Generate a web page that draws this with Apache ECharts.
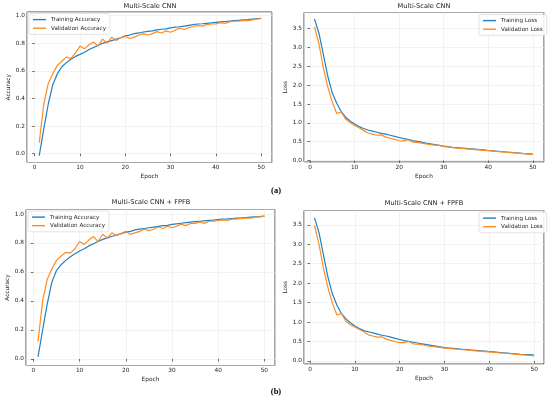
<!DOCTYPE html>
<html>
<head>
<meta charset="utf-8">
<script src="https://cdn.jsdelivr.net/npm/echarts@6/dist/echarts.min.js"></script>
<style>
  html, body { margin: 0; padding: 0; background: #fff; }
  #main { width: 550px; height: 403px; }
</style>
</head>
<body>
<div id="main"></div>
<script>
// epochs 1..50
var epochs = [1,2,3,4,5,6,7,8,9,10,11,12,13,14,15,16,17,18,19,20,
  21,22,23,24,25,26,27,28,29,30,31,32,33,34,35,36,37,38,39,40,
  41,42,43,44,45,46,47,48,49,50];

// (a) Multi-Scale CNN
var accTrainA = [-0.015,0.18,0.36,0.50,0.58,0.63,0.66,0.685,0.705,0.72,
  0.735,0.755,0.77,0.785,0.80,0.81,0.82,0.83,0.84,0.855,
  0.86,0.87,0.875,0.882,0.887,0.89,0.897,0.902,0.905,0.912,
  0.917,0.92,0.925,0.93,0.935,0.94,0.942,0.945,0.948,0.952,
  0.955,0.958,0.961,0.964,0.967,0.97,0.972,0.975,0.978,0.981];
var accValA = [0.08,0.36,0.51,0.58,0.64,0.67,0.70,0.69,0.73,0.78,
  0.76,0.79,0.81,0.78,0.83,0.80,0.845,0.82,0.84,0.85,
  0.835,0.845,0.86,0.87,0.86,0.87,0.885,0.875,0.89,0.88,
  0.895,0.91,0.90,0.915,0.92,0.93,0.925,0.935,0.94,0.94,
  0.95,0.945,0.955,0.96,0.96,0.965,0.965,0.97,0.975,0.98];
var lossTrainA = [3.76,3.38,2.81,2.23,1.79,1.52,1.30,1.15,1.05,0.97,
  0.90,0.85,0.81,0.78,0.75,0.72,0.70,0.67,0.64,0.61,
  0.58,0.56,0.53,0.51,0.49,0.46,0.44,0.42,0.40,0.38,
  0.37,0.35,0.34,0.33,0.32,0.31,0.30,0.29,0.28,0.265,
  0.255,0.245,0.235,0.225,0.215,0.205,0.195,0.185,0.178,0.17];
var lossValA = [3.55,3.10,2.45,1.95,1.55,1.25,1.28,1.10,1.00,0.93,
  0.87,0.80,0.73,0.70,0.67,0.68,0.62,0.59,0.56,0.53,
  0.52,0.55,0.49,0.48,0.46,0.44,0.42,0.41,0.40,0.37,
  0.36,0.34,0.33,0.32,0.31,0.30,0.29,0.28,0.27,0.26,
  0.25,0.24,0.23,0.22,0.21,0.20,0.19,0.18,0.17,0.16];

// (b) Multi-Scale CNN + FPFB
var accTrainB = [0.015,0.20,0.38,0.53,0.61,0.65,0.68,0.705,0.725,0.745,
  0.76,0.78,0.795,0.81,0.825,0.835,0.845,0.855,0.865,0.875,
  0.88,0.89,0.895,0.90,0.905,0.91,0.915,0.92,0.922,0.928,
  0.932,0.936,0.94,0.944,0.947,0.95,0.953,0.956,0.958,0.961,
  0.964,0.966,0.969,0.971,0.973,0.976,0.978,0.98,0.982,0.985];
var accValB = [0.12,0.40,0.55,0.62,0.68,0.71,0.735,0.73,0.76,0.81,
  0.79,0.82,0.845,0.81,0.86,0.835,0.87,0.85,0.865,0.88,
  0.86,0.87,0.88,0.895,0.885,0.895,0.91,0.90,0.915,0.905,
  0.915,0.93,0.92,0.935,0.935,0.945,0.935,0.95,0.95,0.955,
  0.96,0.955,0.965,0.965,0.97,0.972,0.972,0.978,0.98,0.985];
var lossTrainB = [3.68,3.30,2.72,2.15,1.72,1.43,1.22,1.08,0.98,0.90,
  0.83,0.78,0.75,0.72,0.69,0.66,0.64,0.61,0.58,0.55,
  0.52,0.50,0.48,0.46,0.44,0.42,0.40,0.38,0.36,0.34,
  0.33,0.32,0.31,0.30,0.29,0.28,0.27,0.26,0.25,0.24,
  0.23,0.22,0.21,0.20,0.19,0.18,0.17,0.165,0.16,0.15];
var lossValB = [3.48,3.00,2.38,1.88,1.48,1.18,1.22,1.02,0.93,0.87,
  0.81,0.75,0.67,0.64,0.61,0.62,0.56,0.53,0.50,0.47,
  0.47,0.50,0.44,0.43,0.42,0.39,0.37,0.36,0.35,0.33,
  0.32,0.31,0.30,0.29,0.28,0.27,0.26,0.25,0.24,0.23,
  0.22,0.21,0.20,0.19,0.18,0.17,0.16,0.15,0.14,0.13];

var panelTitles = ['Multi-Scale CNN', 'Multi-Scale CNN', 'Multi-Scale CNN + FPFB', 'Multi-Scale CNN + FPFB'];
var blue = '#1f80c4';
var orange = '#ff8c1f';
var font = 'DejaVu Sans';
var ink = '#262626';

function pairs(ys) {
    return epochs.map(function (e, i) { return [e, ys[i]]; });
}

// grid boxes, in pixels
var grids = [
    {left: 27, top: 12, width: 245, height: 150.5},
    {left: 304, top: 12.5, width: 240, height: 149.5},
    {left: 26, top: 209.5, width: 249, height: 156},
    {left: 304, top: 210.5, width: 240, height: 153.5}
];
var xRange = [[-1.7, 52.4], [-1.35, 52.5], [-1.6, 52.3], [-1.35, 52.2]];
var yRange = [[-0.064, 1.027], [-0.04, 3.93], [-0.045, 1.031], [-0.08, 3.87]];
var yStep = [0.2, 0.5, 0.2, 0.5];
var yName = ['Accuracy', 'Loss', 'Accuracy', 'Loss'];

var myChart = echarts.init(document.getElementById('main'), null, {renderer: 'canvas'});

var xAxes = [], yAxes = [], gridOpts = [];
for (var i = 0; i < 4; i++) {
    gridOpts.push({
        left: grids[i].left, top: grids[i].top, width: grids[i].width, height: grids[i].height,
        show: true, borderColor: '#4a4a4a', borderWidth: 1, backgroundColor: '#fff'
    });
    xAxes.push({
        type: 'value', gridIndex: i,
        min: xRange[i][0], max: xRange[i][1],
        splitNumber: 5, minInterval: 10, maxInterval: 10,
        name: 'Epoch', nameLocation: 'middle', nameGap: 11,
        nameTextStyle: {fontSize: 5.8, color: ink, fontFamily: font},
        axisLine: {show: false},
        axisTick: {show: true, length: 2.5, lineStyle: {color: '#333', width: 0.7}},
        axisLabel: {fontSize: 5.8, color: ink, fontFamily: font, margin: 2,
            showMinLabel: false, showMaxLabel: false,
            formatter: function (v) { return Math.round(v) === v ? String(v) : ''; }},
        splitLine: {show: true, lineStyle: {color: '#e9e9e9', width: 0.6}}
    });
    yAxes.push({
        type: 'value', gridIndex: i,
        min: yRange[i][0], max: yRange[i][1],
        splitNumber: 6, minInterval: yStep[i], maxInterval: yStep[i],
        name: yName[i], nameLocation: 'middle', nameGap: 15, nameRotate: 90,
        nameTextStyle: {fontSize: 5.8, color: ink, fontFamily: font},
        axisLine: {show: false},
        axisTick: {show: true, length: 2.5, lineStyle: {color: '#333', width: 0.7}},
        axisLabel: {fontSize: 5.8, color: ink, fontFamily: font, margin: 2,
            showMinLabel: false, showMaxLabel: false,
            formatter: function (v) { return v.toFixed(1); }},
        splitLine: {show: true, lineStyle: {color: '#e9e9e9', width: 0.6}}
    });
}

function line(name, ys, idx, color) {
    return {
        name: name, type: 'line', xAxisIndex: idx, yAxisIndex: idx,
        data: pairs(ys), symbol: 'none', smooth: false,
        lineStyle: {color: color, width: 1.2}, itemStyle: {color: color},
        z: color === blue ? 3 : 4
    };
}

var legendBase = {
    orient: 'vertical', icon: 'rect', itemWidth: 13, itemHeight: 1.4, itemGap: 2.4,
    padding: [3, 4, 3, 4], backgroundColor: 'rgba(255,255,255,0.85)',
    borderColor: '#d0d0d0', borderWidth: 0.6, borderRadius: 2,
    textStyle: {fontSize: 5.6, color: ink, fontFamily: font, lineHeight: 6.2, padding: [0, 0, 0, 0]},
    selectedMode: false
};
var legends = [
    Object.assign({}, legendBase, {left: 29, top: 13.5, data: ['Training Accuracy', 'Validation Accuracy']}),
    Object.assign({}, legendBase, {left: 479, top: 14.5, data: ['Training Loss', 'Validation Loss']}),
    Object.assign({}, legendBase, {left: 28, top: 211, data: ['Training Accuracy', 'Validation Accuracy']}),
    Object.assign({}, legendBase, {left: 479, top: 212, data: ['Training Loss', 'Validation Loss']})
];

var titleXY = [[150, 6], [424, 6], [151, 202.5], [424, 203.5]];
var texts = [];
for (var k = 0; k < 4; k++) {
    texts.push({
        type: 'text', x: titleXY[k][0], y: titleXY[k][1],
        style: {text: panelTitles[k], fontSize: 6.6, fontFamily: font, fill: '#1a1a1a',
            textAlign: 'center', textVerticalAlign: 'middle'}
    });
}
texts.push({type: 'text', x: 276, y: 191,
    style: {text: '(a)', fontSize: 8.5, fontWeight: 'bold', fontFamily: 'Liberation Serif', fill: '#000',
        textAlign: 'center', textVerticalAlign: 'middle'}});
texts.push({type: 'text', x: 276, y: 391.5,
    style: {text: '(b)', fontSize: 8.5, fontWeight: 'bold', fontFamily: 'Liberation Serif', fill: '#000',
        textAlign: 'center', textVerticalAlign: 'middle'}});

option = {
    animation: false,
    backgroundColor: '#fff',
    grid: gridOpts,
    xAxis: xAxes,
    yAxis: yAxes,
    legend: legends,
    graphic: texts,
    series: [
        line('Training Accuracy', accTrainA, 0, blue),
        line('Validation Accuracy', accValA, 0, orange),
        line('Training Loss', lossTrainA, 1, blue),
        line('Validation Loss', lossValA, 1, orange),
        line('Training Accuracy', accTrainB, 2, blue),
        line('Validation Accuracy', accValB, 2, orange),
        line('Training Loss', lossTrainB, 3, blue),
        line('Validation Loss', lossValB, 3, orange)
    ]
};
myChart.setOption(option);
</script>
</body>
</html>
